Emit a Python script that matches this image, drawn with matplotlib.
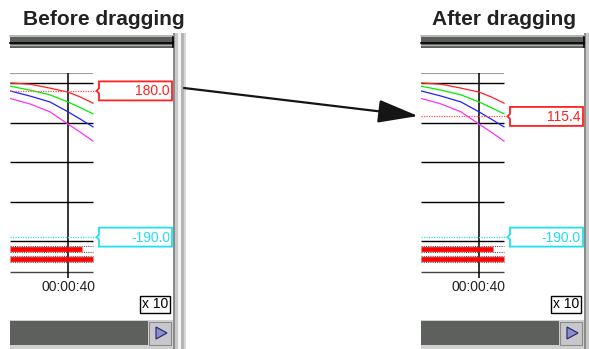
import matplotlib
matplotlib.use("Agg")
import matplotlib.pyplot as plt
from matplotlib.patches import Rectangle, Polygon

plt.rcParams['font.family'] = ['Liberation Sans', 'DejaVu Sans']

# ---------------- data ----------------
panel_titles = ["Before dragging", "After dragging"]
red_cursor = [180.0, 115.4]       # value of red cursor in each panel
cyan_cursor = [-190.0, -190.0]    # value of cyan cursor in each panel
time_label = "00:00:40"
scale_label = "x 10"

# trend curves (time in s, value)
t = [11, 21, 31, 40, 46, 52.5]
red = [200, 197, 187, 177, 165, 149]
green = [192, 182, 170, 152, 138, 122]
blue = [180, 167, 152, 127, 109, 89]
magenta = [161, 147, 127, 96, 76, 53]
curve_colors = ['#ff2020', '#00ee00', '#2020ff', '#ff30ff']

grid_values = [200, 100, 0, -100, -200]
top_value = 225
bottom_value = -278
cursor_time = 40
digital_levels = [-220, -245]
digital_end = [47, 52.5]
t_start, t_end = 11, 52.5

# ---------------- figure ----------------
W, H = 589, 349
fig = plt.figure(figsize=(W / 100, H / 100), dpi=100)
ax = fig.add_axes([0, 0, 1, 1])
ax.set_xlim(0, W)
ax.set_ylim(H, 0)
ax.axis('off')


def px_axes(x0, y0, x1, y1):
    a = fig.add_axes([x0 / W, 1 - y1 / H, (x1 - x0) / W, (y1 - y0) / H])
    a.axis('off')
    return a


def to_py(a, v):
    disp = a.transData.transform((t_start, v))
    return ax.transData.inverted().transform(disp)[1]


def cursor_box(x0, x1, yc, color, text):
    h = 9.5
    pts = [(x0, yc - h), (x1, yc - h), (x1, yc + h), (x0, yc + h),
           (x0, yc + 2.5), (x0 - 2.5, yc), (x0, yc - 2.5)]
    ax.add_patch(Polygon(pts, closed=True, fc='white', ec=color, lw=1.3))
    ax.text(x1 - 2, yc + 0.5, text, ha='right', va='center', fontsize=10,
            color=color)


title_x = [104, 504.5]
offsets = [0, 411]

for i, dx in enumerate(offsets):
    ax.text(title_x[i], 25, panel_titles[i], ha='center', va='baseline',
            fontsize=15, fontweight='bold', color='#222222')

    # top title bar of the window
    ax.add_patch(Rectangle((10 + dx, 35), 163, 13, fc='#5c5e5c', ec='none'))
    ax.plot([10 + dx, 173 + dx], [35.8, 35.8], color='#c8c8c8', lw=1.2)
    ax.plot([10 + dx, 173 + dx], [43.2, 43.2], color='black', lw=1.2)
    ax.plot([10 + dx, 173 + dx], [45.3, 45.3], color='#b0b0b0', lw=0.9)
    ax.plot([172.5 + dx, 172.5 + dx], [37, 47], color='black', lw=1.2)

    # right window frame
    for x0, w, c in [(173, 2, '#8c8c8c'), (175, 3, '#c8c8c8'),
                     (178, 3, '#f2f2f2'), (181, 3, '#b4b4b4'),
                     (184, 2, '#d8d8d8')]:
        ax.add_patch(Rectangle((x0 + dx, 33), w, H - 33, fc=c, ec='none'))

    # bottom scroll bar
    ax.add_patch(Rectangle((10 + dx, 320), 163, 29, fc='#d0d0d0', ec='none'))
    ax.add_patch(Rectangle((10 + dx, 321), 138, 24, fc='#5e605e', ec='none'))
    ax.add_patch(Rectangle((149 + dx, 322), 22, 23, fc='#c8c8cc',
                           ec='#8a8a8a', lw=0.8))
    ax.add_patch(Polygon([(156 + dx, 327), (156 + dx, 339), (167 + dx, 333)],
                         closed=True, fc='#8c8cd0', ec='#303070', lw=0.9))

    # trend plot area
    pa = px_axes(10 + dx, 73, 97 + dx, 284)
    pa.set_xlim(t_start, 54.5)
    pa.set_ylim(-293.7 - 15, 225.3)
    pa.hlines(top_value, t_start, t_end, color='#a0a0a0', lw=1.6)
    pa.hlines(grid_values, t_start, t_end, color='black', lw=1.0)
    pa.hlines(bottom_value, t_start, t_end, color='#444444', lw=1.0)
    pa.vlines(cursor_time, -293.7, top_value, color='black', lw=1.1)

    for ys, c in zip([red, green, blue, magenta], curve_colors):
        pa.plot(t, ys, color=c, lw=0.9)

    for lvl, te in zip(digital_levels, digital_end):
        for off in (-7, 7):
            pa.hlines(lvl + off, t_start, t_end, color='#555555', lw=0.8,
                      linestyles=(0, (1, 1)))
        pa.hlines(lvl, t_start, te, color='#ff0000', lw=3.4)

    pa.hlines(red_cursor[i], t_start, 54.5, color='#ff5050', lw=0.9,
              linestyles=(0, (1, 1)))
    pa.hlines(cyan_cursor[i], t_start, 54.5, color='#30e0f0', lw=0.9,
              linestyles=(0, (1, 1)))

    cursor_box(99 + dx, 172 + dx, to_py(pa, red_cursor[i]), '#ff2020',
               f"{red_cursor[i]:.1f}")
    cursor_box(99 + dx, 172 + dx, to_py(pa, cyan_cursor[i]), '#20e0f0',
               f"{cyan_cursor[i]:.1f}")

    ax.text(68 + dx, 287, time_label, ha='center', va='center', fontsize=10,
            color='#222222')
    ax.add_patch(Rectangle((140 + dx, 296), 30, 17, fc='white', ec='black',
                           lw=1.0))
    ax.text(155 + dx, 304.5, scale_label, ha='center', va='center',
            fontsize=10, color='black')

# drag arrow
ax.annotate('', xy=(418, 116), xytext=(184, 88),
            arrowprops=dict(arrowstyle='-|>,head_length=2.5,head_width=0.72',
                            mutation_scale=10, lw=1.6, color='#151515',
                            shrinkA=0, shrinkB=0))

fig.savefig('out.png', dpi=100)
